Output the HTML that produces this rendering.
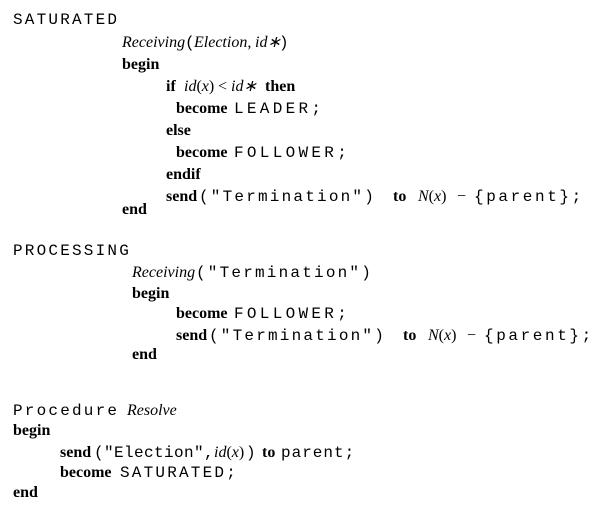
<!DOCTYPE html>
<html><head><meta charset="utf-8"><style>
body{margin:0;width:610px;height:506px;background:#fff;position:relative;overflow:hidden;color:#000}
.l{position:absolute;left:0;width:610px;height:18px}
.l span{position:absolute;top:0;white-space:pre;font-family:"Liberation Serif",serif;font-size:16px;line-height:16px}
.l span.m{font-family:"Liberation Mono",monospace;font-size:16px;letter-spacing:2.2px}
b{font-weight:bold}
i{font-style:italic}
</style></head><body>
<div class="l" style="top:12px"><span class="m" style="left:13px">SATURATED</span></div>
<div class="l" style="top:35px"><span style="left:122px"><i>Receiving</i></span><span class="m" style="left:185px">(</span><span style="left:194px"><i>Election,</i></span><span style="left:255px"><i>id∗</i></span><span class="m" style="left:279px">)</span></div>
<div class="l" style="top:57px"><span style="left:122px"><b>begin</b></span></div>
<div class="l" style="top:79px"><span style="left:166px"><b>if</b></span><span style="left:184px"><i>id</i>(<i>x</i>)</span><span style="left:218px">&lt;</span><span style="left:231px"><i>id∗</i></span><span style="left:265px"><b>then</b></span></div>
<div class="l" style="top:101px"><span style="left:176px"><b>become</b></span><span class="m" style="left:234px;letter-spacing:3.3px">LEADER;</span></div>
<div class="l" style="top:123px"><span style="left:166px"><b>else</b></span></div>
<div class="l" style="top:145px"><span style="left:176px"><b>become</b></span><span class="m" style="left:234px;letter-spacing:3.3px">FOLLOWER;</span></div>
<div class="l" style="top:167px"><span style="left:166px"><b>endif</b></span></div>
<div class="l" style="top:189px"><span style="left:166px"><b>send</b></span><span class="m" style="left:199px">("Termination")</span><span style="left:393px"><b>to</b></span><span style="left:418px"><i>N</i>(<i>x</i>)</span><span style="left:457px">−</span><span class="m" style="left:474px;letter-spacing:2.6px">{parent};</span></div>
<div class="l" style="top:202px"><span style="left:122px"><b>end</b></span></div>

<div class="l" style="top:243px"><span class="m" style="left:13px">PROCESSING</span></div>
<div class="l" style="top:265px"><span style="left:132px"><i>Receiving</i></span><span class="m" style="left:196px">("Termination")</span></div>
<div class="l" style="top:286px"><span style="left:132px"><b>begin</b></span></div>
<div class="l" style="top:306px"><span style="left:176px"><b>become</b></span><span class="m" style="left:234px;letter-spacing:3.3px">FOLLOWER;</span></div>
<div class="l" style="top:328px"><span style="left:176px"><b>send</b></span><span class="m" style="left:209px">("Termination")</span><span style="left:403px"><b>to</b></span><span style="left:428px"><i>N</i>(<i>x</i>)</span><span style="left:467px">−</span><span class="m" style="left:484px;letter-spacing:2.6px">{parent};</span></div>
<div class="l" style="top:347px"><span style="left:132px"><b>end</b></span></div>

<div class="l" style="top:403px"><span class="m" style="left:13px">Procedure</span><span style="left:127px"><i>Resolve</i></span></div>
<div class="l" style="top:423px"><span style="left:13px"><b>begin</b></span></div>
<div class="l" style="top:445px"><span style="left:60px"><b>send</b></span><span class="m" style="left:94px;letter-spacing:0.4px">("Election",</span><span style="left:214px"><i>id</i>(<i>x</i>)</span><span class="m" style="left:246px;letter-spacing:0">)</span><span style="left:262px"><b>to</b></span><span class="m" style="left:281px;letter-spacing:1px">parent;</span></div>
<div class="l" style="top:465px"><span style="left:60px"><b>become</b></span><span class="m" style="left:120px">SATURATED;</span></div>
<div class="l" style="top:485px"><span style="left:13px"><b>end</b></span></div>
</body></html>
